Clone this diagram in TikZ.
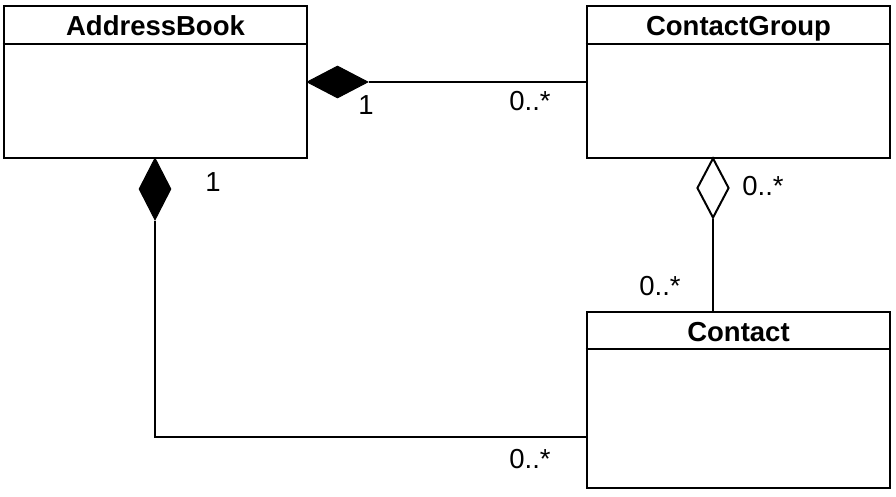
\documentclass[tikz,border=0pt]{standalone}
\usepackage{fontspec}
\setmainfont{Liberation Sans}
\usetikzlibrary{shapes.geometric}
\begin{document}
\begin{tikzpicture}[x=1pt,y=-1pt,
  classbox/.style={draw,line width=2.6pt,minimum width=303pt,inner sep=0pt},
  divider/.style={line width=2.2pt},
  title/.style={font=\fontsize{27.5}{30}\selectfont\bfseries,inner sep=0pt,anchor=base},
  mult/.style={font=\fontsize{27.5}{30}\selectfont,inner sep=0pt},
  conn/.style={line width=2pt},
  comp/.style={diamond,fill=black,draw,line width=1pt,inner sep=0pt,minimum width=#1},
  aggr/.style={diamond,fill=white,draw,line width=2pt,inner sep=0pt,minimum width=32pt,minimum height=60pt}
]
\useasboundingbox (0,0) rectangle (896,497);
% classes
\node[classbox,minimum height=152pt] (ab) at (155.5,82) {};
\node[classbox,minimum height=152pt] (cg) at (738.5,82) {};
\node[classbox,minimum height=176pt] (ct) at (738.5,400) {};
\draw[divider] (ab.west |- 0,44) -- (ab.east |- 0,44);
\draw[divider] (cg.west |- 0,44) -- (cg.east |- 0,44);
\draw[divider] (ct.west |- 0,349) -- (ct.east |- 0,349);
\node[title] (abt) at (155.5,36) {AddressBook};
\node[title] (cgt) at (738.5,36) {ContactGroup};
\node[title] (ctt) at (738.5,341) {Contact};
% diamonds
\node[comp=61pt,minimum height=32pt] (d1) at (337.5,82) {};
\node[comp=32pt,minimum height=62pt] (d2) at (155,189) {};
\node[aggr] (d3) at (713,188) {};
% connectors
\draw[conn] (d1.east) -- (d1.east -| cg.west);
\coordinate (ce) at (587,437);
\draw[conn] (d2.south) |- (ce);
\draw[conn] (d3.south) -- (d3.south |- ct.north);
% multiplicities
\node[mult] (m1) at (366,105) {1};
\node[mult] (m2) at (530,101) {0..*};
\node[mult] (m3) at (213,182) {1};
\node[mult] (m4) at (763,186) {0..*};
\node[mult] (m5) at (660,286) {0..*};
\node[mult] (m6) at (530,459) {0..*};
\end{tikzpicture}
\end{document}
